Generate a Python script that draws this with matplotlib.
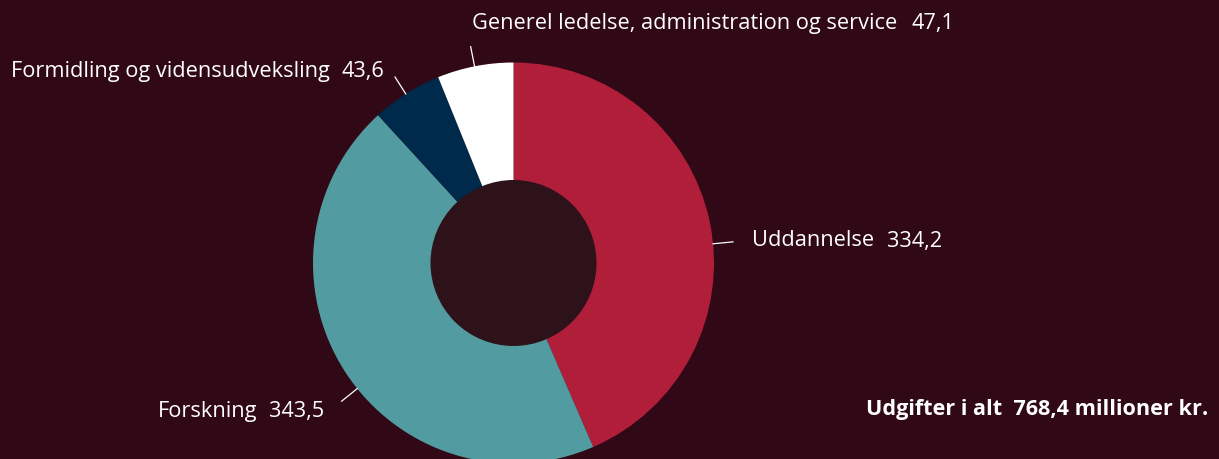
import matplotlib
matplotlib.use("Agg")
import matplotlib.pyplot as plt
import numpy as np
from matplotlib.patches import Circle

categories = ["Uddannelse", "Forskning", "Formidling og vidensudveksling",
              "Generel ledelse, administration og service"]
values = [334.2, 343.5, 43.6, 47.1]
value_labels = ["334,2", "343,5", "43,6", "47,1"]
colors = ["#b01e3a", "#529ba0", "#002a4c", "#ffffff"]
total_label = "Udgifter i alt  768,4 millioner kr."

BG = "#300816"
INNER = "#2d1219"
W, H = 1219, 459

plt.rcParams['font.family'] = ['Open Sans', 'DejaVu Sans']

fig = plt.figure(figsize=(W / 100, H / 100), dpi=100, facecolor=BG)
ax = fig.add_axes([0, 0, 1, 1])
ax.set_facecolor(BG)

cx, cy, R = 513.5, H - 263, 200.5
ax.pie(values, colors=colors, startangle=90, counterclock=False,
       center=(cx, cy), radius=R, wedgeprops=dict(linewidth=0))
ax.add_patch(Circle((cx, cy), 83, facecolor=INNER, edgecolor='none', zorder=5))

# leader lines (angle in degrees, r0 -> r1) and label placement (left x, image y)
leader_angles = [5.5, 218.8, 122.5, 101.2]
label_pos = [(752, 241), (158, 411), (11, 72), (472, 24)]
number_x = [887, 269, 342, 912]
fs = 15.7
for i, cat in enumerate(categories):
    a = np.deg2rad(leader_angles[i])
    r0, r1 = R, R + 20
    ax.plot([cx + r0 * np.cos(a), cx + r1 * np.cos(a)],
            [cy + r0 * np.sin(a), cy + r1 * np.sin(a)],
            color="white", lw=0.9, zorder=6)
    lx, ly = label_pos[i]
    ax.text(lx, H - ly, cat, color="white", fontsize=fs, ha='left', va='center')
    ax.text(number_x[i], H - ly, value_labels[i], color="white", fontsize=fs,
            ha='left', va='center')

ax.text(866, H - 410, total_label, color="white", fontsize=15.6,
        fontweight='bold', ha='left', va='center')

ax.set_xlim(0, W)
ax.set_ylim(0, H)
ax.set_aspect('auto')
ax.axis('off')
fig.savefig("out.png", dpi=100, facecolor=BG)
